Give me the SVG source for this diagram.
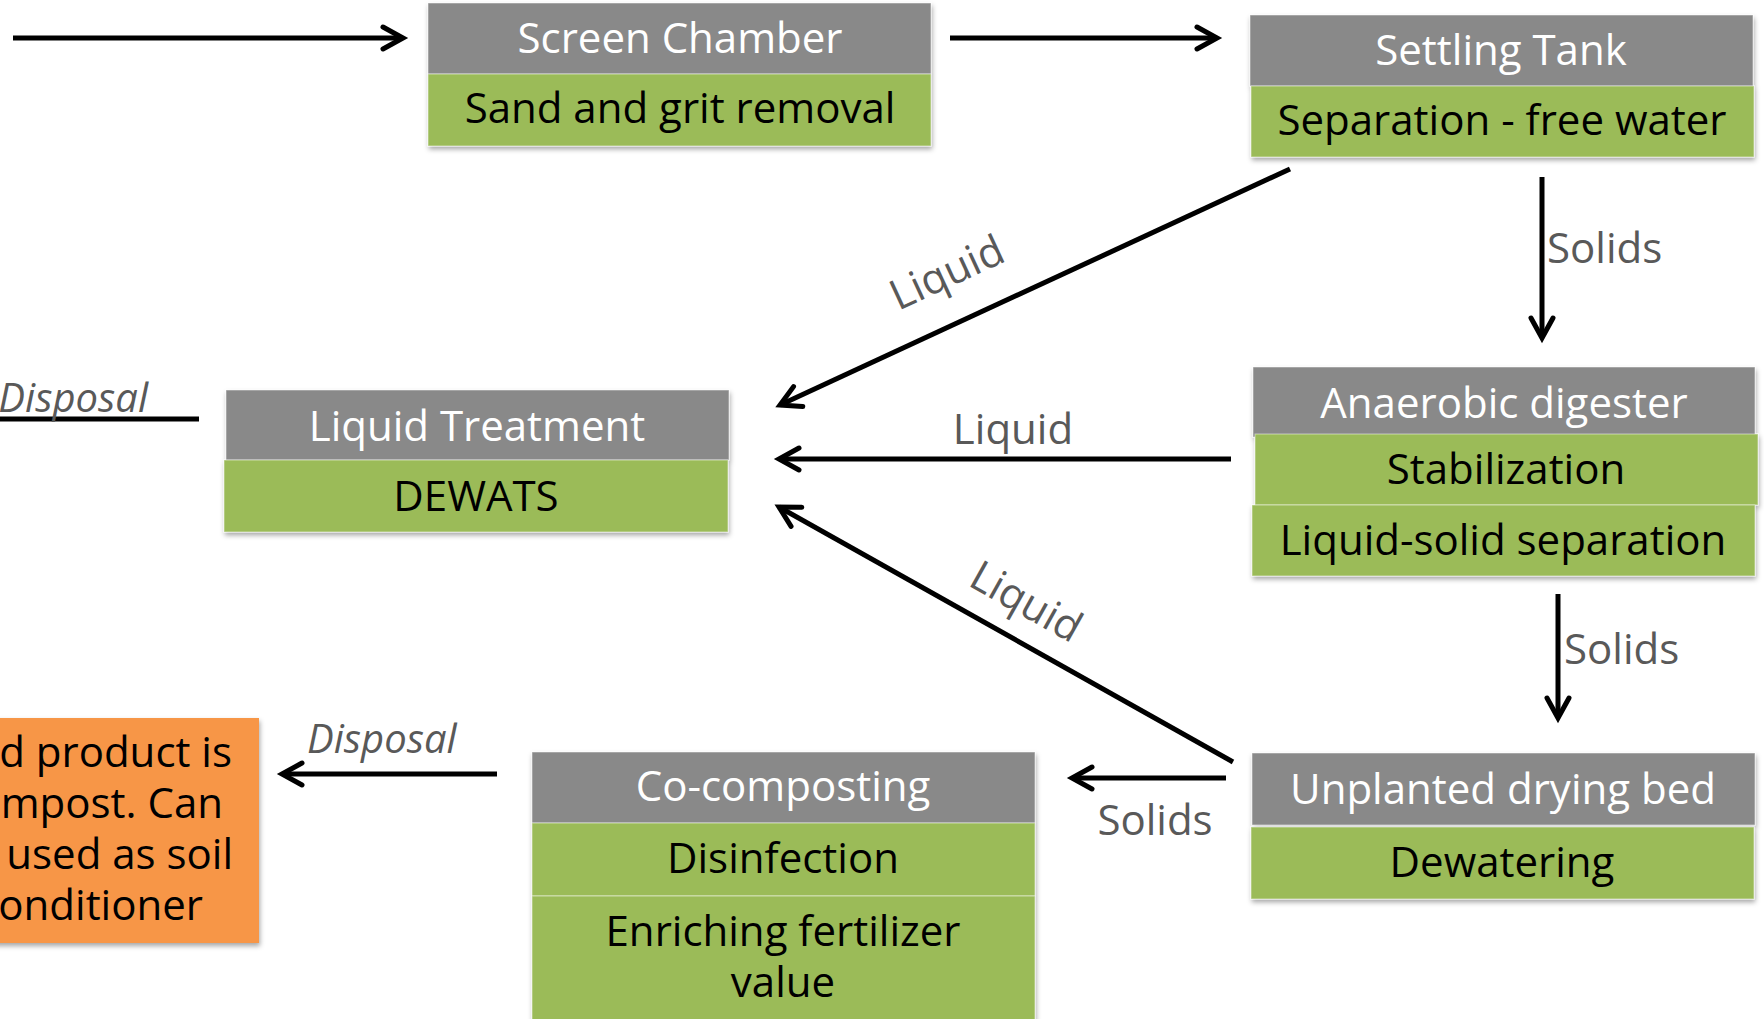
<svg xmlns="http://www.w3.org/2000/svg" width="1764" height="1019" viewBox="0 0 1764 1019">
<defs>
<filter id="sh" x="-5%" y="-10%" width="112%" height="130%"><feDropShadow dx="1" dy="3" stdDeviation="2.5" flood-color="#000" flood-opacity="0.35"/></filter>
<marker id="ah" markerUnits="userSpaceOnUse" markerWidth="1" markerHeight="1" refX="0" refY="0" orient="auto" overflow="visible"><path d="M-20,-11 L0,0 L-20,11" fill="none" stroke="#000" stroke-width="5" stroke-linecap="round" stroke-linejoin="miter"/></marker>
</defs>
<style>
.hd{fill:#898989}
.gr{fill:#9BBB59}
.or{fill:#F79646}
.bx rect{stroke:#ffffff;stroke-width:1;stroke-opacity:0.5}
.t{font-family:"Open Sans","Liberation Sans",sans-serif;font-size:42px;text-anchor:middle}
.w{fill:#ffffff}
.k{fill:#000000}
.lb{font-family:"Open Sans","Liberation Sans",sans-serif;font-size:42px;fill:#595959}
.it{font-style:italic;font-size:40px}
.c{stroke:#000;stroke-width:5;fill:none;marker-end:url(#ah)}
.ot{font-family:"Open Sans","Liberation Sans",sans-serif;font-size:42px;fill:#000;text-anchor:end}
</style>

<g id="connectors">
<line class="c" x1="13" y1="38" x2="403" y2="38"/>
<line class="c" x1="950" y1="38" x2="1217" y2="38"/>
<line class="c" x1="1290" y1="169" x2="780" y2="405"/>
<line class="c" x1="1542" y1="177" x2="1542" y2="338"/>
<line class="c" x1="1231" y1="459" x2="779" y2="459"/>
<line class="c" x1="1233" y1="762" x2="779" y2="507"/>
<line class="c" x1="1558" y1="594" x2="1558" y2="718"/>
<line class="c" x1="1226" y1="778" x2="1072" y2="778"/>
<line class="c" x1="497" y1="774" x2="282" y2="774"/>
<line x1="0" y1="419" x2="199" y2="419" stroke="#000" stroke-width="5"/>
<text class="lb" transform="translate(947,273) rotate(-24.8)" x="0" y="14" text-anchor="middle">Liquid</text>
<text class="lb" x="1013" y="444" text-anchor="middle">Liquid</text>
<text class="lb" transform="translate(1026,602) rotate(29.3)" x="0" y="14" text-anchor="middle">Liquid</text>
<text class="lb" x="1547" y="263">Solids</text>
<text class="lb" x="1564" y="664">Solids</text>
<text class="lb" x="1155" y="835" text-anchor="middle">Solids</text>
<text class="lb it" x="307" y="753">Disposal</text>
<text class="lb it" x="148" y="412" text-anchor="end">Disposal</text>
</g>

<g id="screen-chamber">
<g class="bx" filter="url(#sh)"><rect class="hd" x="428" y="3" width="503" height="71"/><rect class="gr" x="428" y="74" width="503" height="72"/></g>
<text class="t w" x="680" y="53">Screen Chamber</text>
<text class="t k" x="680" y="123">Sand and grit removal</text>
</g>

<g id="settling-tank">
<g class="bx" filter="url(#sh)"><rect class="hd" x="1250" y="15" width="503" height="71"/><rect class="gr" x="1251" y="86" width="503" height="71"/></g>
<text class="t w" x="1501" y="65">Settling Tank</text>
<text class="t k" x="1502" y="135">Separation - free water</text>
</g>

<g id="anaerobic-digester">
<g class="bx" filter="url(#sh)"><rect class="hd" x="1253" y="367" width="502" height="70"/><rect class="gr" x="1255" y="434" width="503" height="71"/><rect class="gr" x="1252" y="505" width="503" height="71"/></g>
<text class="t w" x="1504" y="418">Anaerobic digester</text>
<text class="t k" x="1506" y="484">Stabilization</text>
<text class="t k" x="1503" y="555">Liquid-solid separation</text>
</g>

<g id="liquid-treatment">
<g class="bx" filter="url(#sh)"><rect class="hd" x="226" y="390" width="503" height="70"/><rect class="gr" x="224" y="460" width="504" height="72"/></g>
<text class="t w" x="477" y="441">Liquid Treatment</text>
<text class="t k" x="476" y="511">DEWATS</text>
</g>

<g id="unplanted-drying-bed">
<g class="bx" filter="url(#sh)"><rect class="hd" x="1252" y="753" width="503" height="72"/><rect class="gr" x="1251" y="827" width="503" height="72"/></g>
<text class="t w" x="1503" y="804">Unplanted drying bed</text>
<text class="t k" x="1502" y="877">Dewatering</text>
</g>

<g id="co-composting">
<g class="bx" filter="url(#sh)"><rect class="hd" x="532" y="752" width="503" height="71"/><rect class="gr" x="532" y="823" width="503" height="73"/><rect class="gr" x="532" y="896" width="503" height="140"/></g>
<text class="t w" x="783" y="801">Co-composting</text>
<text class="t k" x="783" y="873">Disinfection</text>
<text class="t k" x="783" y="946">Enriching fertilizer<tspan x="783" y="997">value</tspan></text>
</g>

<g id="end-product">
<g filter="url(#sh)"><rect class="or" x="-70" y="718" width="329" height="225"/></g>
<text class="ot" x="232" y="767">d product is<tspan x="223" y="818">mpost. Can</tspan><tspan x="233" y="869">used as soil</tspan><tspan x="203" y="920">onditioner</tspan></text>
</g>
</svg>
